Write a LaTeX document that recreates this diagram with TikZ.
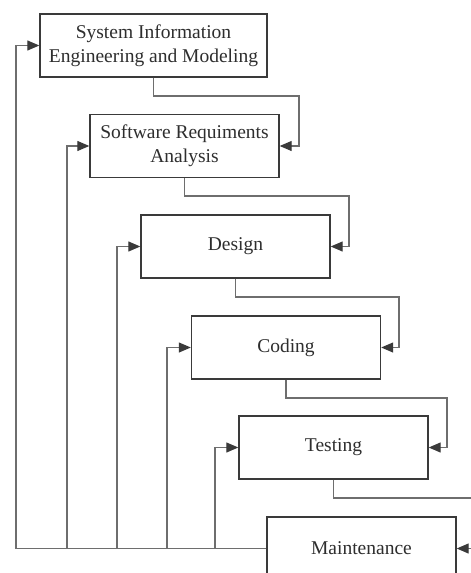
\documentclass[tikz,border=0pt]{standalone}
\usepackage{fontspec}
\setmainfont{Liberation Serif}
\usetikzlibrary{arrows.meta}
\definecolor{boxline}{HTML}{3A3A3A}
\definecolor{conline}{HTML}{6E6E6E}
\definecolor{txt}{HTML}{2E2E2E}
\begin{document}
\begin{tikzpicture}[x=1pt,y=-1pt,
  phase/.style={draw=boxline,line width=1.4pt,minimum width=189pt,minimum height=63pt,
    inner sep=0pt,align=center,text=txt,font=\fontsize{19.5}{24}\selectfont},
  conn/.style={draw=conline,line width=1.2pt},
  arr/.style={conn,-{Triangle[length=12pt,width=10pt,color=boxline]}}]
\clip (0,0) rectangle (471,573);
\fill[white] (0,0) rectangle (471,573);
\node[phase,minimum width=227pt] (s1) at (153.5,45.5) {System Information\\Engineering and Modeling};
\node[phase] (s2) at (184.5,146) {Software Requiments\\Analysis};
\node[phase] (s3) at (235.5,246.5) {Design};
\node[phase] (s4) at (286,347.5) {Coding};
\node[phase] (s5) at (333.5,447.5) {Testing};
\node[phase] (s6) at (361.5,548.5) {Maintenance};
% right-hand flow
\coordinate (r1) at (299,96);
\coordinate (r2) at (349,196);
\coordinate (r3) at (399,297);
\coordinate (r4) at (447,398);
\coordinate (r5) at (497,498);
\draw[arr] (s1.south) |- (r1) |- (s2.east);
\draw[arr] (s2.south) |- (r2) |- (s3.east);
\draw[arr] (s3.south) |- (r3) |- (s4.east);
\draw[arr] (s4.south) |- (r4) |- (s5.east);
\draw[arr] (s5.south) |- (r5) |- (s6.east);
% feedback from maintenance
\coordinate (b1) at (16,548.5);
\coordinate (b2) at (67,548.5);
\coordinate (b3) at (117,548.5);
\coordinate (b4) at (167,548.5);
\coordinate (b5) at (215,548.5);
\draw[conn] (s6.west) -- (b1);
\draw[arr] (b1) |- (s1.west);
\draw[arr] (b2) |- (s2.west);
\draw[arr] (b3) |- (s3.west);
\draw[arr] (b4) |- (s4.west);
\draw[arr] (b5) |- (s5.west);
\end{tikzpicture}
\end{document}
